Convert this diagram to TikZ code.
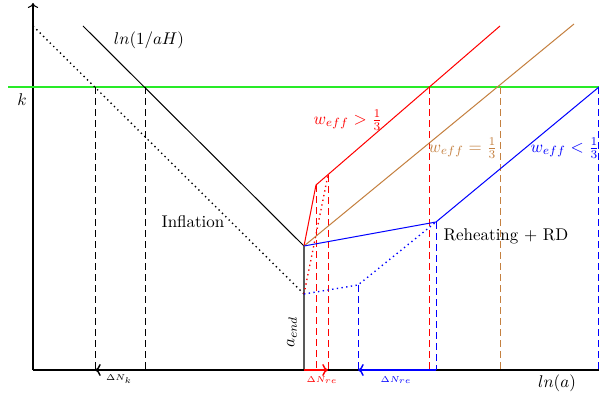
\documentclass[tikz,border=0pt]{standalone}
\usetikzlibrary{arrows.meta}
\definecolor{weqbrown}{RGB}{196,128,64}
\definecolor{kgreen}{RGB}{40,235,40}
\begin{document}
\begin{tikzpicture}[x=0.59pt,y=-0.59pt,semithick]
            \useasboundingbox (0,0) rectangle (599,398);
            \tikzset{dsh/.style={dashed,thin,dash pattern=on 4pt off 2.5pt}, dot/.style={dotted,thick}}
            \coordinate (O) at (33,370);
            \coordinate (Yt) at (33,3);
            \coordinate (Xe) at (599,370);
            \coordinate (Kl) at (8,87);
            \coordinate (Kr) at (599,87);
            \draw[->] (O)--(Yt);
            \draw (O)--(Xe);
            \draw[kgreen, thick] (Kl)--(Kr);
            \node (k) at (22,100) {$k$};
            % horizon
            \coordinate (Ha) at (83,26);
            \coordinate (E) at (304,246);
            \coordinate (Da) at (33,26);
            \coordinate (Eb) at (304,294);
            \coordinate (Ea) at (304,370);
            \draw (Ha)--(E)--(Ea);
            \draw[dot] (Da)--(Eb);
            \node (aH) at (149,40) {$ln(1/aH)$};
            \node (infl) at (193,222) {Inflation};
            \node[rotate=90] (aend) at (292,332) {$a_{end}$};
            \coordinate (Pk) at (95,87);
            \coordinate (Qk) at (145,87);
            \coordinate (Pk0) at (95,370);
            \coordinate (Qk0) at (145,370);
            \draw[dsh] (Pk)--(Pk0) (Qk)--(Qk0);
            \draw[->,thick] (Qk0)--(Pk0);
            \node[font=\tiny] (dNk) at (119,379) {$\Delta N_k$};
            % w_eff > 1/3
            \begin{scope}[red]
                \coordinate (Ra) at (316,185);
                \coordinate (Rb) at (500,26);
                \coordinate (Rc) at (328,175);
                \coordinate (Rk) at (429,87);
                \draw (E)--(Ra)--(Rb);
                \draw[dot] (Eb)--(Rc);
                \draw[dsh] (Ra)--(316,370) (Rc)--(328,370) (Rk)--(429,370);
                \draw[->,thick] (Ea)--(328,370);
                \node (wr) at (348,120) {$w_{eff}>\frac{1}{3}$};
                \node[font=\tiny] (dNr) at (322,380) {$\Delta N_{re}$};
            \end{scope}
            % w_eff = 1/3
            \begin{scope}[weqbrown]
                \coordinate (Ba) at (574,24);
                \coordinate (Bk) at (500,87);
                \draw (E)--(Ba);
                \draw[dsh] (Bk)--(500,370);
                \node (wb) at (463,148) {$w_{eff}=\frac{1}{3}$};
            \end{scope}
            % w_eff < 1/3
            \begin{scope}[blue]
                \coordinate (La) at (436,222);
                \coordinate (Lb) at (599,87);
                \coordinate (Lc) at (358,285);
                \coordinate (Lk) at (598,87);
                \draw (E)--(La)--(Lb);
                \draw[dot] (Eb)--(Lc)--(La);
                \draw[dsh] (Lc)--(358,370) (La)--(436,370) (Lk)--(598,370);
                \draw[->,thick] (436,370)--(358,370);
                \node (wl) at (565,148) {$w_{eff}<\frac{1}{3}$};
                \node[font=\tiny] (dNb) at (396,380) {$\Delta N_{re}$};
            \end{scope}
            \node (reh) at (506,236) {Reheating $+$ RD};
            \node (lna) at (557,383) {$ln(a)$};
        \end{tikzpicture}
\end{document}
